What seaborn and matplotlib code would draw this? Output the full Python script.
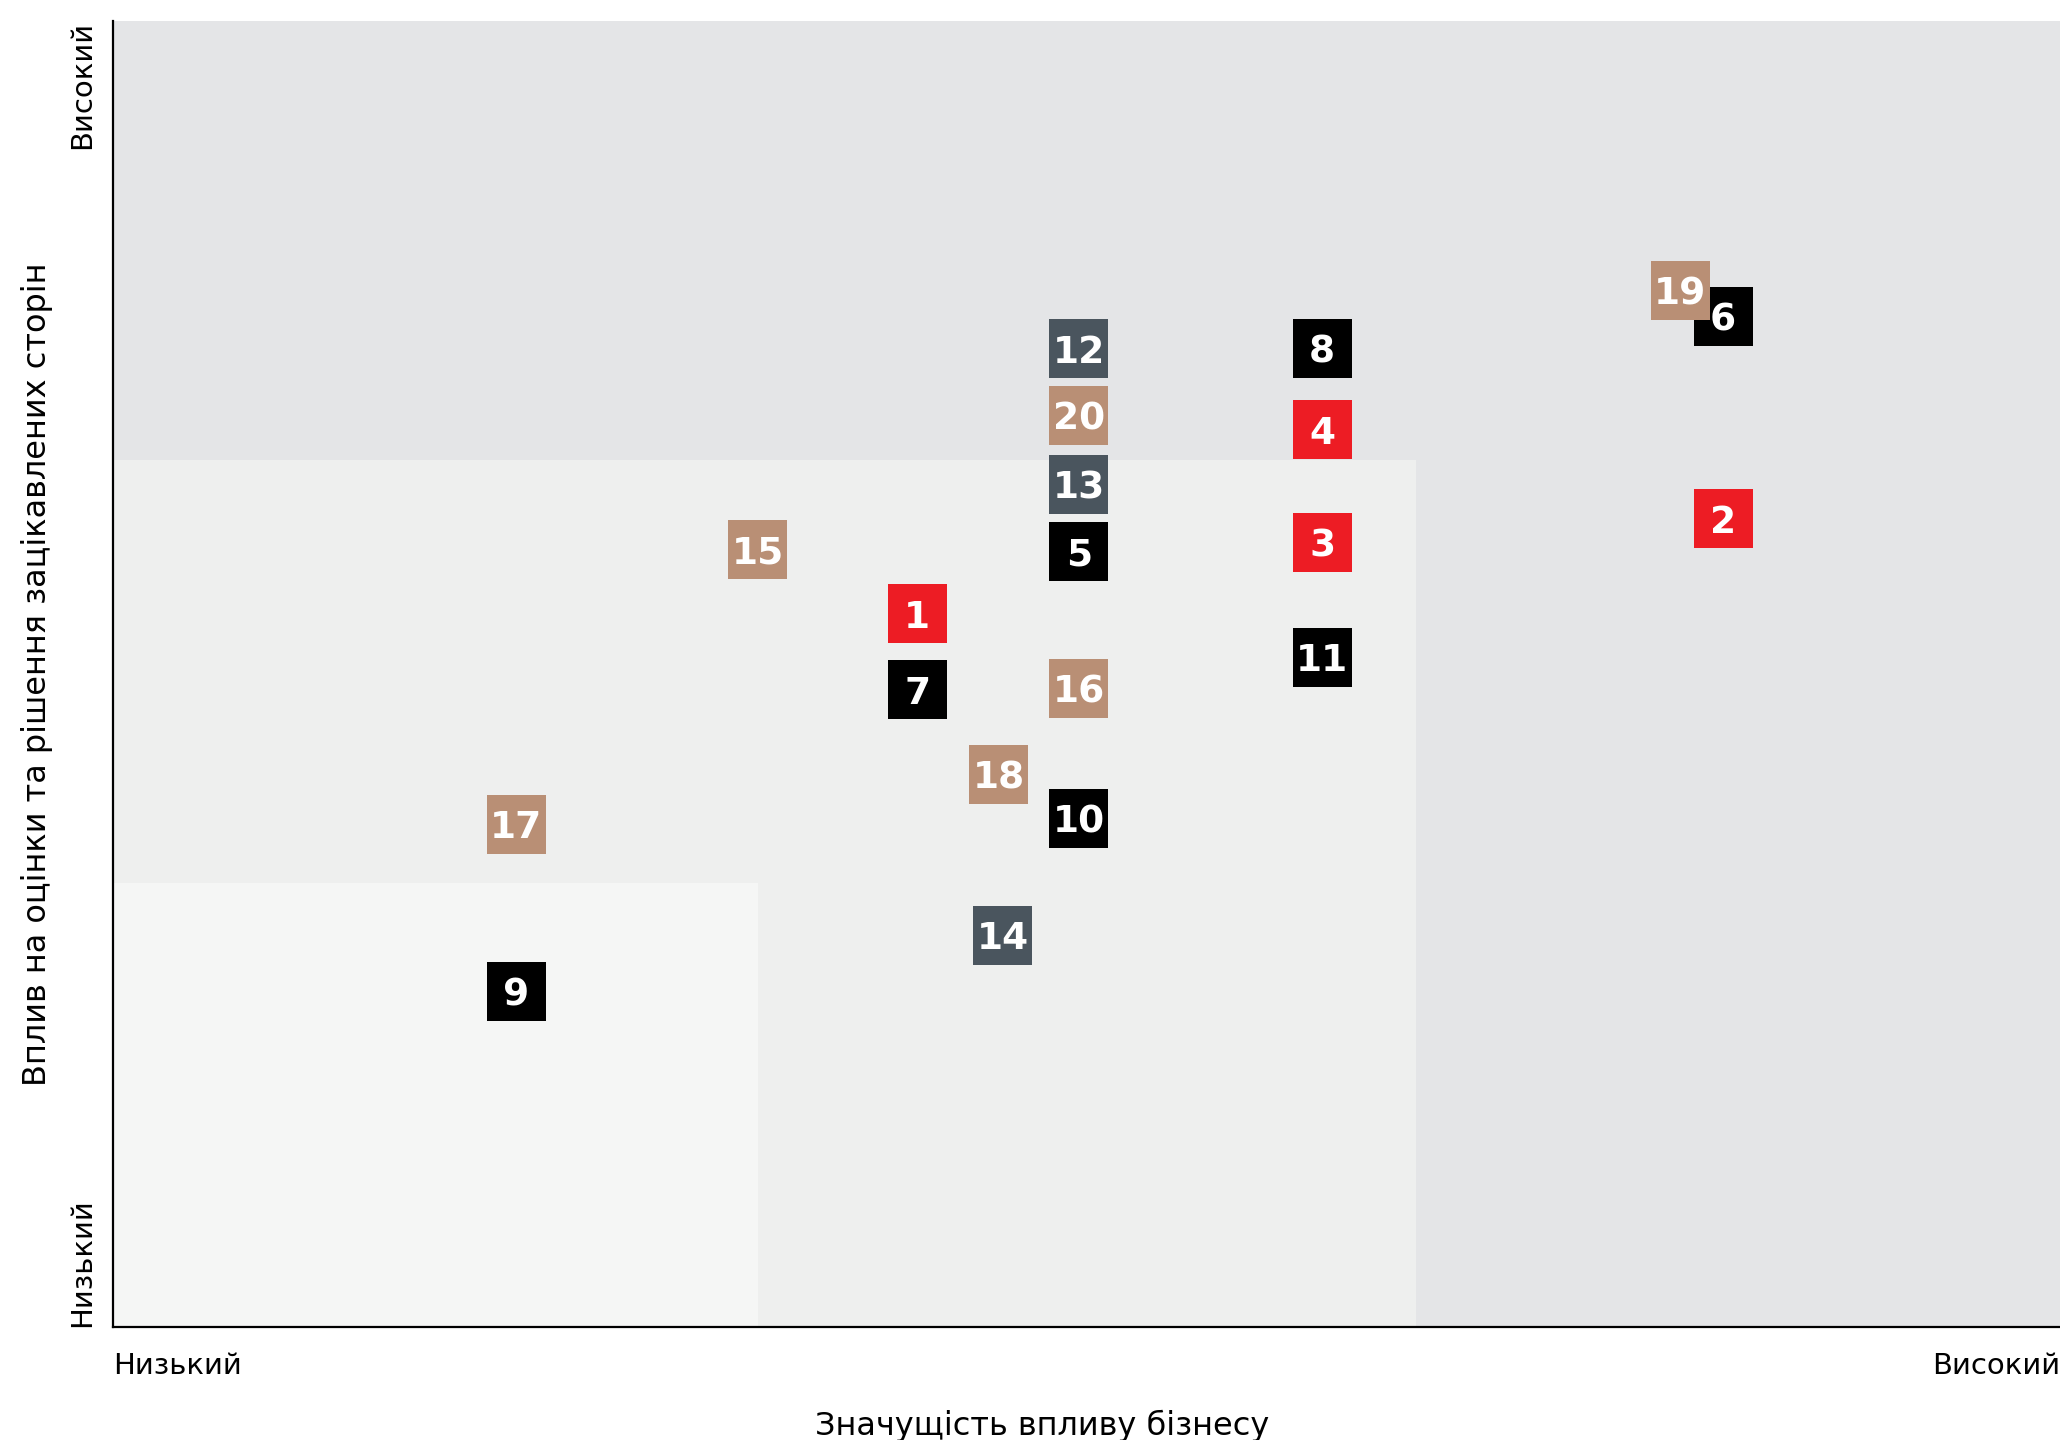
import seaborn as sns
import matplotlib.pyplot as plt
import matplotlib.patches as mpatches
import pandas as pd

# data (0..100 scale on both axes)
ids = [str(i) for i in range(1, 21)]
x_vals = [41.3, 82.7, 62.1, 62.1, 49.6, 82.7, 41.3, 62.1, 20.7, 49.6,
          62.1, 49.6, 49.6, 45.7, 33.1, 49.6, 20.7, 45.5, 80.5, 49.6]
y_vals = [54.6, 61.9, 60.1, 68.7, 59.4, 77.4, 48.8, 74.9, 25.7, 38.9,
          51.3, 74.9, 64.5, 30.0, 59.5, 48.9, 38.5, 42.3, 79.4, 69.8]
groups = ["red", "red", "red", "red", "black", "black", "black", "black", "black", "black",
          "black", "slate", "slate", "slate", "tan", "tan", "tan", "tan", "tan", "tan"]

# background zones: (width, height) from origin
zone_sizes = [(66.9, 66.4), (33.1, 34.0)]

x_ticklabels = ["Низький", "Високий"]
y_ticklabels = ["Низький", "Високий"]
x_title = "Значущість впливу бізнесу"
y_title = "Вплив на оцінки та рішення зацікавлених сторін"

palette = {"red": "#ED1C24", "black": "#000000", "slate": "#4A555E", "tan": "#B98F75"}
zone_colors = ["#E4E5E7", "#EEEFEE", "#F5F6F5"]

df = pd.DataFrame({"id": ids, "x": x_vals, "y": y_vals, "group": groups})

sns.set_style("white")
plt.rcParams['font.family'] = ['DejaVu Sans']
plt.rcParams['text.color'] = 'black'
plt.rcParams['axes.labelcolor'] = 'black'
plt.rcParams['xtick.color'] = 'black'
plt.rcParams['ytick.color'] = 'black'

fig = plt.figure(figsize=(20.6, 14.4), dpi=100)
ax = fig.add_axes([0.0549, 0.0785, 0.9451, 0.9069])
ax.set_facecolor(zone_colors[0])

for (w, h), c in zip(zone_sizes, zone_colors[1:]):
    ax.add_patch(mpatches.Rectangle((0, 0), w, h, color=c, lw=0, zorder=0))

sns.scatterplot(data=df, x="x", y="y", hue="group", palette=palette, marker="s",
                s=1806, linewidth=0, legend=False, ax=ax, zorder=3)

for _, row in df.iterrows():
    ax.text(row["x"], row["y"], row["id"], color="white", fontsize=27, fontweight="bold",
            ha="center", va="center_baseline", zorder=5)

ax.set_xlim(0, 100)
ax.set_ylim(0, 100)

ax.set_xticks([0, 100])
ax.set_xticklabels(x_ticklabels, fontsize=21)
ax.set_yticks([0, 100])
ax.set_yticklabels(y_ticklabels, fontsize=21, rotation=90)
xt = ax.get_xticklabels()
xt[0].set_ha("left")
xt[1].set_ha("right")
yt = ax.get_yticklabels()
yt[0].set_va("bottom")
yt[1].set_va("top")
ax.tick_params(axis="both", length=0)
ax.tick_params(axis="x", pad=18)
ax.tick_params(axis="y", pad=12)

ax.set_xlabel(x_title, fontsize=23)
ax.xaxis.set_label_coords(0.477, -0.063)
ax.set_ylabel(y_title, fontsize=23)
ax.yaxis.set_label_coords(-0.031, 0.5)

for side in ["top", "right"]:
    ax.spines[side].set_visible(False)
for side in ["left", "bottom"]:
    ax.spines[side].set_color("black")
    ax.spines[side].set_linewidth(1.6)

plt.savefig("out.png", dpi=100)
